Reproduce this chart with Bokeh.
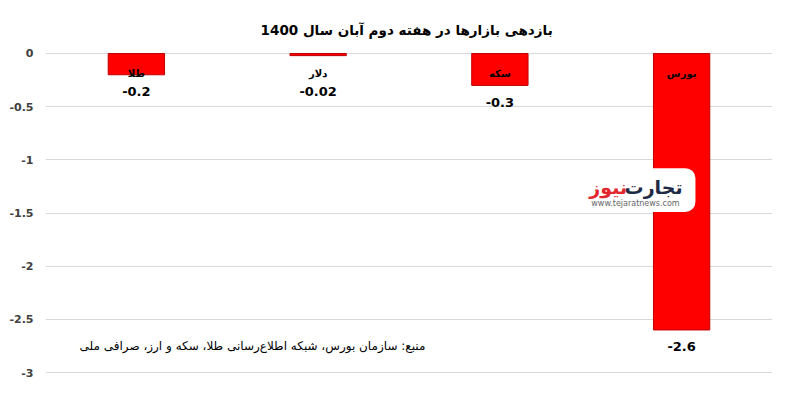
from bokeh.plotting import figure
from bokeh.models import FactorRange, Range1d, FixedTicker, Label, BoxAnnotation, ColumnDataSource
from bokeh.core.properties import value
from bokeh.embed import file_html
from bokeh.resources import INLINE

title_text = "بازدهی بازارها در  هفته دوم آبان سال 1400"
categories = ["طلا", "دلار", "سکه", "بورس"]
values = [-0.2, -0.02, -0.3, -2.6]
value_labels = ["-0.2", "-0.02", "-0.3", "-2.6"]
y_ticks = [0, -0.5, -1, -1.5, -2, -2.5, -3]
y_tick_labels = ["0", "-0.5", "-1", "-1.5", "-2", "-2.5", "-3"]
source_text = "منبع: سازمان بورس، شبکه اطلاع‌رسانی طلا، سکه و ارز، صرافی ملی"

FONT = "DejaVu Sans"

src = ColumnDataSource(dict(
    cat=categories,
    val=values,
    lab=value_labels,
    lab_y=[min(v, -0.2) for v in values],
))

p = figure(
    width=792, height=398,
    x_range=FactorRange(factors=categories, range_padding=0),
    y_range=Range1d(-3.0094, 0.0094),
    output_backend="svg", toolbar_location=None,
    min_border_left=45, min_border_right=20,
    min_border_top=52, min_border_bottom=25,
)
p.title.text = title_text
p.title.align = "center"
p.title.vertical_align = "top"
p.title.text_font = FONT
p.title.text_font_size = "13.5px"
p.title.text_font_style = "bold"
p.title.text_color = "#000000"
p.title.standoff = 26
p.outline_line_color = None
p.background_fill_color = "white"
p.border_fill_color = "white"

p.xaxis.visible = False
p.xgrid.grid_line_color = None
p.ygrid.grid_line_color = "#D9D9D9"
p.ygrid.ticker = FixedTicker(ticks=y_ticks)

p.yaxis.ticker = FixedTicker(ticks=y_ticks)
p.yaxis.major_label_overrides = {t: l for t, l in zip(y_ticks, y_tick_labels)}
p.yaxis.axis_line_color = None
p.yaxis.major_tick_line_color = None
p.yaxis.minor_tick_line_color = None
p.yaxis.major_label_text_font = FONT
p.yaxis.major_label_text_font_size = "11px"
p.yaxis.major_label_text_font_style = "bold"
p.yaxis.major_label_text_color = "#404040"
p.yaxis.major_label_standoff = 6

p.vbar(x="cat", top="val", bottom=0, width=0.31, source=src,
       fill_color="#FF0000", line_color="#C00000", line_width=1)

# category names inside bars
p.text(x="cat", y=-0.19, text="cat", source=src,
       text_font=value(FONT), text_font_size="10px", text_font_style="bold",
       text_align="center", text_baseline="middle", text_color="#000000")

# value labels below bars
p.text(x="cat", y="lab_y", text="lab", source=src, y_offset=17,
       text_font=value(FONT), text_font_size="13px", text_font_style="bold",
       text_align="center", text_baseline="middle", text_color="#000000")

# source note
p.add_layout(Label(x=2.09, y=-2.755, text=source_text, text_font=FONT,
                   text_font_size="12px", text_align="right", text_baseline="middle",
                   text_color="#000000"))

# watermark logo
p.add_layout(BoxAnnotation(left=2.916, right=3.576, top=-1.078, bottom=-1.49,
                           fill_color="white", fill_alpha=1.0, line_color=None,
                           border_radius=10))
p.add_layout(Label(x=3.505, y=-1.256, text="تجارت", text_font=FONT,
                   text_font_size="19px", text_font_style="bold", text_align="right",
                   text_baseline="middle", text_color="#1F2A44"))
p.add_layout(Label(x=3.20, y=-1.256, text="نیوز", text_font=FONT,
                   text_font_size="19px", text_font_style="bold", text_align="right",
                   text_baseline="middle", text_color="#E3262D"))
p.add_layout(Label(x=3.246, y=-1.406, text="www.tejaratnews.com", text_font=FONT,
                   text_font_size="8px", text_align="center",
                   text_baseline="middle", text_color="#666666"))

open("out.html", "w").write(file_html(p, INLINE))
